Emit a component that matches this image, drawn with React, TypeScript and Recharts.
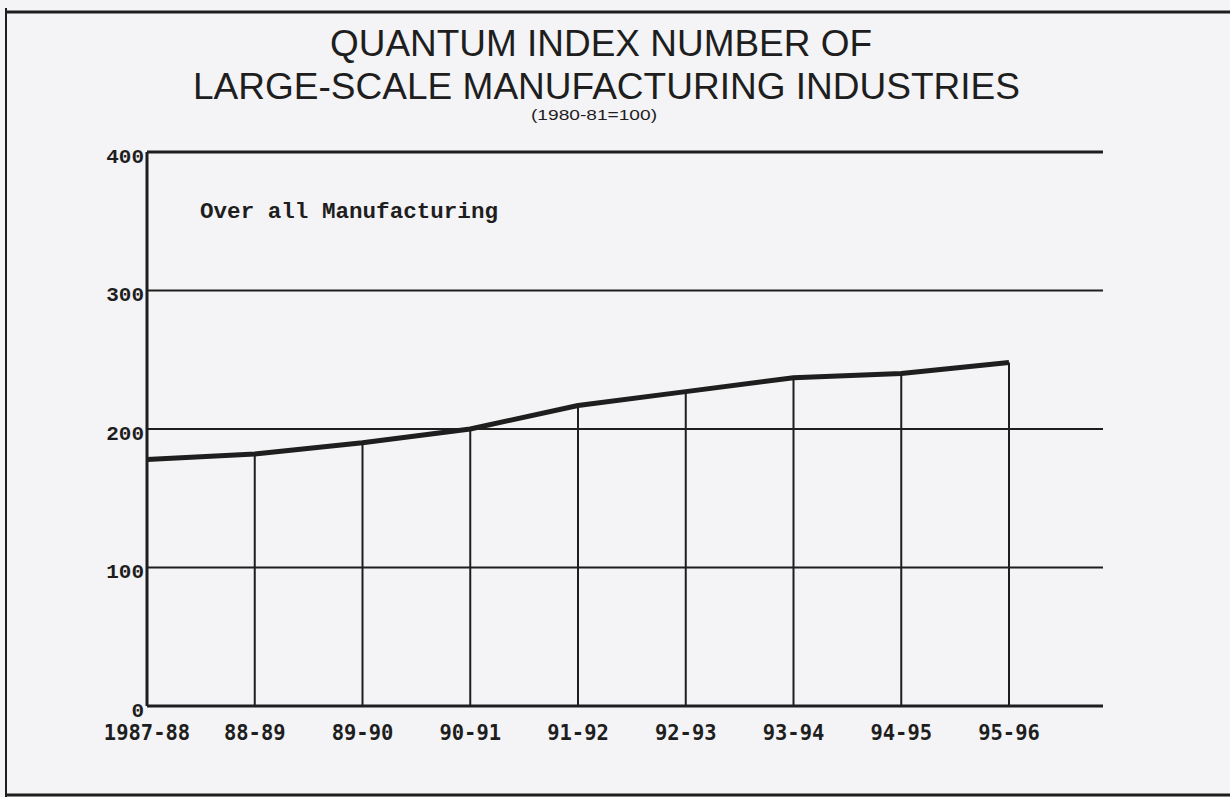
import React from "react";
import { LineChart, Line, XAxis, YAxis, CartesianGrid, ReferenceLine } from "recharts";

const categories = ["1987-88", "88-89", "89-90", "90-91", "91-92", "92-93", "93-94", "94-95", "95-96"];
const overallManufacturing = [178, 182, 190, 200, 217, 227, 237, 240, 248];
const yTicks = [0, 100, 200, 300, 400];

const titleLine1 = "QUANTUM INDEX NUMBER OF";
const titleLine2 = "LARGE-SCALE MANUFACTURING INDUSTRIES";
const subtitle = "(1980-81=100)";
const seriesLabel = "Over all Manufacturing";

const data = categories.map((c, i) => ({ period: c, value: overallManufacturing[i] }));

const INK = "#1e1e1e";
const PAPER = "#f4f3f5";

const YTick = (props: any) => {
  const { x, y, payload } = props;
  return (
    <text x={x} y={y + 5} textAnchor="end" dominantBaseline="middle"
      fontFamily="'Liberation Mono', 'Courier New', monospace" fontWeight="bold" fontSize={21} fill={INK}>
      {payload.value}
    </text>
  );
};

const XTick = (props: any) => {
  const { x, y, payload } = props;
  return (
    <text x={x} y={y} textAnchor="middle" dominantBaseline="hanging"
      fontFamily="'DejaVu Sans Mono', monospace" fontWeight="bold" fontSize={20.5} fill={INK}>
      {payload.value}
    </text>
  );
};

export default function App() {
  return (
    <div style={{ position: "absolute", left: 0, top: 0, width: 1230, height: 797, background: PAPER, overflow: "hidden" }}>
      <div style={{ position: "absolute", left: 0, top: 0 }}>
        <LineChart width={1230} height={797} data={data} margin={{ top: 152, right: 127, left: 0, bottom: 51 }}>
          <CartesianGrid yAxisId="left" vertical={false} stroke={INK} strokeWidth={2} strokeOpacity={1} />
          <XAxis dataKey="period" scale="point" padding={{ left: 0, right: 94 }} height={40}
            axisLine={{ stroke: INK, strokeWidth: 3 }} tickLine={false} tickSize={0} tickMargin={19}
            tick={<XTick />} interval={0} />
          <YAxis yAxisId="left" width={147} domain={[0, 400]} ticks={yTicks} interval={0}
            axisLine={{ stroke: INK, strokeWidth: 3 }} tickLine={false} tickSize={2} tickMargin={1}
            tick={<YTick />} />
          <YAxis yAxisId="right" orientation="right" width={0} domain={[0, 400]} ticks={yTicks}
            axisLine={{ stroke: INK, strokeWidth: 3 }} tick={false} tickLine={false} />
          {categories.map((c, i) => (
            <ReferenceLine key={c} yAxisId="left" ifOverflow="visible" stroke={INK} strokeWidth={2}
              segment={[{ x: c, y: 0 }, { x: c, y: overallManufacturing[i] }]} />
          ))}
          <Line yAxisId="left" type="linear" dataKey="value" stroke={INK} strokeWidth={5}
            strokeLinejoin="round" dot={false} activeDot={false} isAnimationActive={false} />
        </LineChart>
      </div>
      <svg width={1230} height={797} style={{ position: "absolute", left: 0, top: 0, pointerEvents: "none" }}>
        <line x1={7} y1={12} x2={1230} y2={12} stroke={INK} strokeWidth={3} />
        <line x1={6} y1={8} x2={6} y2={797} stroke={INK} strokeWidth={2} />
        <line x1={6} y1={795} x2={1230} y2={795} stroke={INK} strokeWidth={3} />
        <line x1={147} y1={152} x2={1103} y2={152} stroke={INK} strokeWidth={3} />
        <text x={330} y={56} textLength={542} lengthAdjust="spacingAndGlyphs"
          fontFamily="'Liberation Sans', Arial, sans-serif" fontSize={36} fill={INK}>{titleLine1}</text>
        <text x={193} y={99} textLength={827} lengthAdjust="spacingAndGlyphs"
          fontFamily="'Liberation Sans', Arial, sans-serif" fontSize={36} fill={INK}>{titleLine2}</text>
        <text x={531} y={120} textLength={126} lengthAdjust="spacingAndGlyphs"
          fontFamily="'Liberation Sans', Arial, sans-serif" fontSize={15} fill={INK}>{subtitle}</text>
        <text x={200} y={218} textLength={298} lengthAdjust="spacingAndGlyphs"
          fontFamily="'Liberation Mono', 'Courier New', monospace" fontWeight="bold" fontSize={22.5} fill={INK}>{seriesLabel}</text>
      </svg>
    </div>
  );
}
